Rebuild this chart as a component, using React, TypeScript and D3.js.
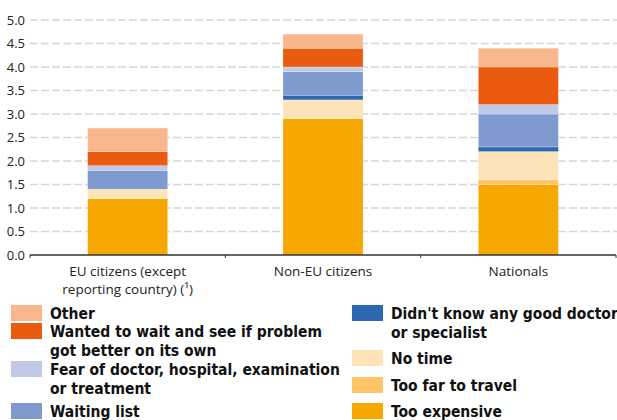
import React from 'react'
import * as d3 from 'd3'

const categories = ['EU citizens (except|reporting country) (¹)', 'Non-EU citizens', 'Nationals']

const seriesKeys = ['expensive', 'far', 'notime', 'didnt', 'waiting', 'fear', 'wanted', 'other']

const tooExpensive = [1.2, 2.9, 1.5]
const tooFar = [0.0, 0.0, 0.1]
const noTime = [0.2, 0.4, 0.6]
const didntKnow = [0.0, 0.1, 0.1]
const waitingList = [0.4, 0.5, 0.7]
const fear = [0.1, 0.1, 0.2]
const wanted = [0.3, 0.4, 0.8]
const other = [0.5, 0.3, 0.4]

const yTicks = [0, 0.5, 1, 1.5, 2, 2.5, 3, 3.5, 4, 4.5, 5]

const colors: Record<string, string> = {
  other: '#F9B58B',
  wanted: '#EA5B0F',
  fear: '#C0CAE8',
  waiting: '#7F9ACF',
  didnt: '#2B6AB3',
  notime: '#FEE3B9',
  far: '#FDC566',
  expensive: '#F6A800',
}

const labels: Record<string, string[]> = {
  other: ['Other'],
  wanted: ['Wanted to wait and see if problem', 'got better on its own'],
  fear: ['Fear of doctor, hospital, examination', 'or treatment'],
  waiting: ['Waiting list'],
  didnt: ["Didn't know any good doctor", 'or specialist'],
  notime: ['No time'],
  far: ['Too far to travel'],
  expensive: ['Too expensive'],
}

const legendLeft = ['other', 'wanted', 'fear', 'waiting']
const legendRight = ['didnt', 'notime', 'far', 'expensive']

const table = categories.map((c, i) => ({
  cat: c,
  expensive: tooExpensive[i],
  far: tooFar[i],
  notime: noTime[i],
  didnt: didntKnow[i],
  waiting: waitingList[i],
  fear: fear[i],
  wanted: wanted[i],
  other: other[i],
}))

const W = 617
const H = 420
const left = 30
const right = 616
const top = 20
const bottom = 255

const tickFont = "'Open Sans', sans-serif"
const legendFont = "'DejaVu Sans Condensed', 'Liberation Sans Narrow', sans-serif"

export default function App() {
  const x = d3.scaleBand<string>().domain(categories).range([left, right]).padding(0)
  const y = d3.scaleLinear().domain([0, 5]).range([bottom, top])
  const stack = d3.stack<any>().keys(seriesKeys)(table)
  const barW = x.bandwidth() * 0.41

  const legendRows = (keys: string[], sx: number, rows: number[]) =>
    keys.map((k, i) => (
      <g key={k}>
        <rect x={sx} y={rows[i]} width={31} height={16} fill={colors[k]} />
        {labels[k].map((t, j) => (
          <text
            key={j}
            x={sx + 39}
            y={rows[i] + 14 + j * 18.5}
            fontFamily={legendFont}
            fontWeight="bold"
            fontSize={15.5}
            fill="#111"
          >
            {t}
          </text>
        ))}
      </g>
    ))

  return (
    <svg width={W} height={H} style={{ position: 'absolute', left: 0, top: 0, background: '#fff' }}>
      {yTicks.map((t) => (
        <g key={t}>
          {t > 0 && (
            <line
              x1={left}
              x2={W}
              y1={y(t)}
              y2={y(t)}
              stroke="#d6d6d6"
              strokeWidth={1.5}
              strokeDasharray="8,3"
            />
          )}
          <text
            x={25}
            y={y(t)}
            dy="0.35em"
            textAnchor="end"
            fontFamily={tickFont}
            fontSize={13}
            fill="#222"
          >
            {t.toFixed(1)}
          </text>
        </g>
      ))}
      {stack.map((s) => (
        <g key={s.key} fill={colors[s.key]}>
          {s.map((d, i) =>
            d[1] - d[0] > 0 ? (
              <rect
                key={i}
                x={(x(categories[i]) as number) + x.bandwidth() / 2 - barW / 2}
                y={y(d[1])}
                width={barW}
                height={y(d[0]) - y(d[1])}
                stroke="#fff"
                strokeOpacity={0.5}
                strokeWidth={0.5}
              />
            ) : null,
          )}
        </g>
      ))}
      <line x1={left} x2={right} y1={bottom} y2={bottom} stroke="#333" strokeWidth={1.3} />
      {[...categories.map((c) => x(c) as number), right].map((v, i) => (
        <line key={i} x1={v} x2={v} y1={bottom} y2={bottom + 3} stroke="#333" strokeWidth={1} />
      ))}
      {categories.map((c) =>
        c.split('|').map((line, j) => (
          <text
            key={c + j}
            x={(x(c) as number) + x.bandwidth() / 2}
            y={276 + j * 17.5}
            textAnchor="middle"
            fontFamily={tickFont}
            fontSize={13.5}
            fill="#222"
          >
            {line}
          </text>
        )),
      )}
      {legendRows(legendLeft, 11, [305, 323, 361, 403])}
      {legendRows(legendRight, 352, [305, 350, 377, 403])}
    </svg>
  )
}
